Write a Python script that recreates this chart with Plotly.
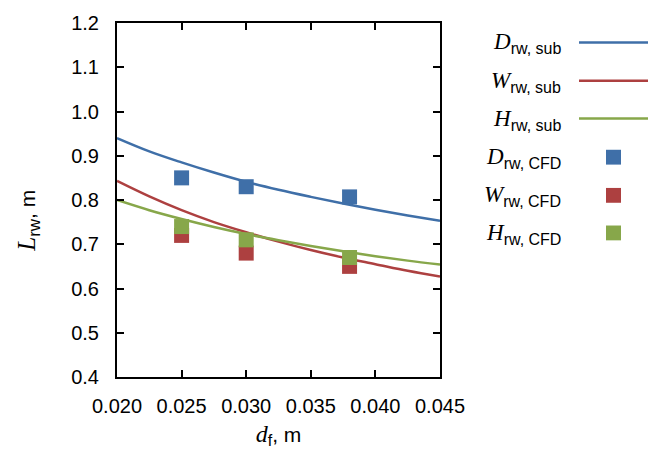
import plotly.graph_objects as go

# ---- data ----
x_curve = [0.020, 0.0225, 0.025, 0.0275, 0.030, 0.0325, 0.035, 0.0375, 0.040, 0.0425, 0.045]
D_sub = [0.940, 0.910, 0.885, 0.862, 0.841, 0.823, 0.807, 0.792, 0.778, 0.765, 0.753]
W_sub = [0.843, 0.808, 0.777, 0.750, 0.727, 0.706, 0.687, 0.670, 0.655, 0.640, 0.627]
H_sub = [0.800, 0.777, 0.757, 0.739, 0.723, 0.709, 0.696, 0.684, 0.673, 0.663, 0.654]

x_cfd = [0.025, 0.030, 0.038]
D_cfd = [0.85, 0.83, 0.807]
W_cfd = [0.72, 0.68, 0.65]
H_cfd = [0.74, 0.71, 0.67]

x_ticks = [0.020, 0.025, 0.030, 0.035, 0.040, 0.045]
x_ticklabels = ["0.020", "0.025", "0.030", "0.035", "0.040", "0.045"]
y_ticks = [0.4, 0.5, 0.6, 0.7, 0.8, 0.9, 1.0, 1.1, 1.2]
y_ticklabels = ["0.4", "0.5", "0.6", "0.7", "0.8", "0.9", "1.0", "1.1", "1.2"]

legend_names = ["D|sub", "W|sub", "H|sub", "D|CFD", "W|CFD", "H|CFD"]

BLUE = "#3f6fa8"
RED = "#ad4040"
GREEN = "#87a74a"
colors = [BLUE, RED, GREEN]

W, H = 664, 455
L, R, T, B = 117, 224, 21, 76
pw, ph = W - L - R, H - T - B

SERIF = "Liberation Serif"
SANS = "Liberation Sans"

fig = go.Figure()
for y, c in zip([D_sub, W_sub, H_sub], colors):
    fig.add_trace(go.Scatter(x=x_curve, y=y, mode="lines", line=dict(color=c, width=2.5, shape="spline"),
                             showlegend=False))
for y, c in zip([D_cfd, W_cfd, H_cfd], colors):
    fig.add_trace(go.Scatter(x=x_cfd, y=y, mode="markers",
                             marker=dict(symbol="square", size=15, color=c, line=dict(width=0)),
                             showlegend=False))

def px2paper_x(px):
    return (px - L) / pw

def px2paper_y(py):
    return (H - B - py) / ph

def mathlabel(name):
    sym, sub = name.split("|")
    return (f"<i>{sym}</i><sub><span style='font-family:{SANS};font-size:16px'>rw, {sub}</span></sub>")

row_y = [40.7, 79.3, 117.7, 156.7, 195.3, 233.3]
annotations = []
shapes = []
for i, (name, ry) in enumerate(zip(legend_names, row_y)):
    annotations.append(dict(xref="paper", yref="paper", x=px2paper_x(563), y=px2paper_y(ry + 1),
                            xanchor="right", yanchor="middle", showarrow=False,
                            text=mathlabel(name), font=dict(family=SERIF, size=23, color="black")))
    c = colors[i % 3]
    if i < 3:
        shapes.append(dict(type="line", xref="paper", yref="paper",
                           x0=px2paper_x(579), x1=px2paper_x(648), y0=px2paper_y(ry), y1=px2paper_y(ry),
                           line=dict(color=c, width=2.5)))
    else:
        shapes.append(dict(type="rect", xref="paper", yref="paper",
                           x0=px2paper_x(606), x1=px2paper_x(621),
                           y0=px2paper_y(ry + 7.5), y1=px2paper_y(ry - 7.5),
                           fillcolor=c, line=dict(width=0)))

# y-axis title (as rotated annotation, placed like the reference)
annotations.append(dict(xref="paper", yref="paper", x=px2paper_x(28), y=px2paper_y(221),
                        xanchor="center", yanchor="middle", showarrow=False, textangle=-90,
                        text=f"<i><span style='font-family:{SERIF};font-size:25px'>L</span></i>"
                             f"<sub><span style='font-size:17px'>rw</span></sub>, m",
                        font=dict(family=SANS, size=21, color="black")))

axis_common = dict(showline=True, linecolor="black", linewidth=2, mirror="allticks",
                   ticks="inside", ticklen=7, tickwidth=2, tickcolor="black",
                   showgrid=False, zeroline=False,
                   tickfont=dict(family=SANS, size=20, color="black"))

fig.update_layout(
    width=W, height=H,
    margin=dict(l=L, r=R, t=T, b=B, pad=0),
    paper_bgcolor="white", plot_bgcolor="white",
    xaxis=dict(range=[0.020, 0.045], tickvals=x_ticks, ticktext=x_ticklabels,
               ticklabelstandoff=10,
               title=dict(text=f"<i><span style='font-family:{SERIF};font-size:24px'>d</span></i>"
                               f"<sub><span style='font-size:16px'>f</span></sub>, m",
                          font=dict(family=SANS, size=21, color="black"), standoff=11),
               **axis_common),
    yaxis=dict(range=[0.4, 1.2], tickvals=y_ticks, ticktext=y_ticklabels,
               ticklabelstandoff=12,
               **axis_common),
    annotations=annotations,
    shapes=shapes,
)

fig.write_html("out.html")
